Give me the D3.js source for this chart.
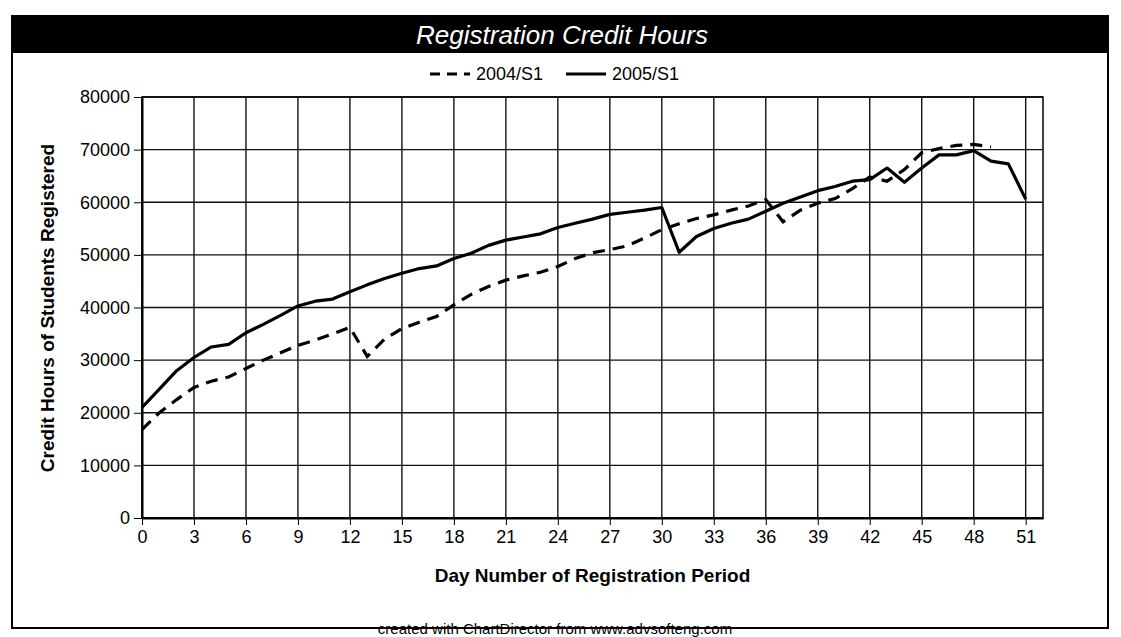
<!DOCTYPE html>
<html lang="en">
  <head>
    <meta charset="UTF-8" />
    <script src="https://d3js.org/d3.v7.min.js"></script>
    <style>
      body { margin: 0; background: #fff; }
      text { font-family: "Liberation Sans", Arial, sans-serif; }
      .grid line { stroke: #111; stroke-width: 1.4px; }
      .axis path, .axis line { stroke: #000; }
      .axis text { font-size: 18px; fill: #000; }
    </style>
    <title>Registration Credit Hours</title>
  </head>
  <body>
    <svg id="chart" width="1121" height="637"></svg>
    <script>
      // data
      const days2004 = d3.range(0, 50);
      const hours2004 = [
        16800, 20000, 22500, 24800, 26000, 26800, 28400, 30000, 31400, 32800,
        33800, 35000, 36200, 30700, 34000, 36000, 37200, 38300, 40500, 42500,
        44000, 45200, 46000, 46700, 47800, 49300, 50400, 51000, 51700, 53200,
        54800, 55900, 56900, 57600, 58500, 59300, 60500, 56300, 58500, 59800,
        60700, 62600, 64800, 64000, 66200, 69400, 70200, 70800, 71000, 70500
      ];
      const days2005 = d3.range(0, 52);
      const hours2005 = [
        21000, 24500, 28000, 30500, 32500, 33000, 35200, 36800, 38500, 40300,
        41200, 41600, 43000, 44300, 45500, 46500, 47400, 47900, 49300, 50300,
        51800, 52800, 53400, 54000, 55200, 56000, 56800, 57700, 58100, 58500,
        59000, 50500, 53500, 55000, 56000, 56800, 58300, 59800, 61000, 62200,
        63000, 64000, 64300, 66500, 63800, 66500, 69000, 69000, 69800, 67800,
        67300, 60600
      ];
      const xTicks = d3.range(0, 52, 3);
      const yTicks = d3.range(0, 80001, 10000);
      const seriesNames = ["2004/S1", "2005/S1"];

      const svg = d3.select("#chart");
      const plot = { left: 142, right: 1043, top: 97, bottom: 518 };

      const x = d3.scaleLinear().domain([0, 52]).range([plot.left, plot.right]);
      const y = d3.scaleLinear().domain([0, 80000]).range([plot.bottom, plot.top]);

      // outer frame
      svg.append("rect")
        .attr("x", 12).attr("y", 16)
        .attr("width", 1096).attr("height", 612)
        .attr("fill", "#fff").attr("stroke", "#000").attr("stroke-width", 2);

      // title bar
      svg.append("rect")
        .attr("x", 13).attr("y", 17)
        .attr("width", 1094).attr("height", 36)
        .attr("fill", "#000");
      svg.append("text")
        .attr("x", 562).attr("y", 44)
        .attr("text-anchor", "middle")
        .attr("font-size", 26)
        .attr("font-style", "italic")
        .attr("fill", "#fff")
        .text("Registration Credit Hours");

      // grid
      const grid = svg.append("g").attr("class", "grid");
      grid.selectAll("line.v")
        .data(xTicks)
        .join("line")
        .attr("class", "v")
        .attr("x1", (d) => x(d)).attr("x2", (d) => x(d))
        .attr("y1", plot.top).attr("y2", plot.bottom);
      grid.selectAll("line.h")
        .data(yTicks)
        .join("line")
        .attr("class", "h")
        .attr("x1", plot.left).attr("x2", plot.right)
        .attr("y1", (d) => y(d)).attr("y2", (d) => y(d));

      svg.append("rect")
        .attr("x", plot.left).attr("y", plot.top)
        .attr("width", plot.right - plot.left)
        .attr("height", plot.bottom - plot.top)
        .attr("fill", "none").attr("stroke", "#000").attr("stroke-width", 1.5);

      // axes
      svg.append("g")
        .attr("class", "axis")
        .attr("transform", `translate(0,${plot.bottom})`)
        .call(d3.axisBottom(x).tickValues(xTicks).tickSize(7).tickPadding(5).tickSizeOuter(0))
        .call((g) => g.select(".domain").attr("stroke-width", 2));
      svg.append("g")
        .attr("class", "axis")
        .attr("transform", `translate(${plot.left},0)`)
        .call(d3.axisLeft(y).tickValues(yTicks).tickFormat(d3.format("d"))
          .tickSize(8).tickPadding(4).tickSizeOuter(0))
        .call((g) => g.select(".domain").attr("stroke-width", 2));

      // lines
      const line = d3.line().x((d) => x(d[0])).y((d) => y(d[1]));
      svg.append("path")
        .datum(days2004.map((d, i) => [d, hours2004[i]]))
        .attr("fill", "none").attr("stroke", "#000")
        .attr("stroke-width", 3.2).attr("stroke-dasharray", "12,8")
        .attr("d", line);
      svg.append("path")
        .datum(days2005.map((d, i) => [d, hours2005[i]]))
        .attr("fill", "none").attr("stroke", "#000")
        .attr("stroke-width", 3.2).attr("stroke-linejoin", "round")
        .attr("d", line);

      // axis titles
      svg.append("text")
        .attr("transform", "translate(54,308) rotate(-90)")
        .attr("text-anchor", "middle")
        .attr("font-size", 19).attr("font-weight", "bold")
        .text("Credit Hours of Students Registered");
      svg.append("text")
        .attr("x", (plot.left + plot.right) / 2).attr("y", 582)
        .attr("text-anchor", "middle")
        .attr("font-size", 19).attr("font-weight", "bold")
        .text("Day Number of Registration Period");

      // legend
      const legend = svg.append("g").attr("transform", "translate(430,74)");
      const items = legend.selectAll("g")
        .data(seriesNames)
        .join("g")
        .attr("transform", (d, i) => `translate(${i * 136},0)`);
      items.append("line")
        .attr("x1", 0).attr("x2", 40)
        .attr("stroke", "#000").attr("stroke-width", 3)
        .attr("stroke-dasharray", (d, i) => (i === 0 ? "10,7" : null));
      items.append("text")
        .attr("x", 46).attr("dy", "0.35em")
        .attr("font-size", 18)
        .text((d) => d);

      // footer
      svg.append("text")
        .attr("x", 555).attr("y", 634)
        .attr("text-anchor", "middle")
        .attr("font-size", 15)
        .text("created with ChartDirector from www.advsofteng.com");
    </script>
  </body>
</html>
